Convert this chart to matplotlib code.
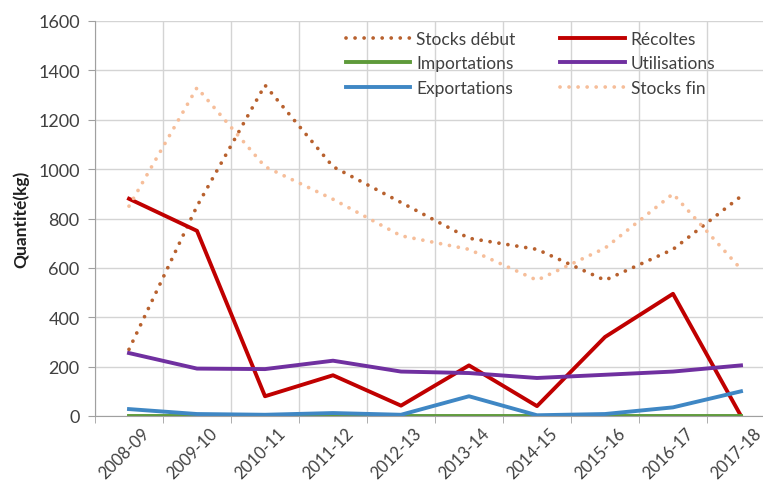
import numpy as np
import matplotlib.pyplot as plt
from matplotlib.transforms import ScaledTranslation

plt.rcParams['font.family'] = ['Lato', 'DejaVu Sans']

# campaigns and quantities (kg)
campagnes = ['2008-09', '2009-10', '2010-11', '2011-12', '2012-13',
             '2013-14', '2014-15', '2015-16', '2016-17', '2017-18']
stocks_debut = [270, 850, 1340, 1010, 865, 720, 675, 550, 675, 890]
recoltes = [880, 750, 80, 165, 42, 205, 40, 320, 495, 0]
importations = [0, 0, 0, 0, 0, 0, 0, 0, 0, 0]
utilisations = [255, 192, 190, 224, 180, 174, 154, 167, 180, 205]
exportations = [28, 8, 5, 12, 5, 80, 3, 8, 35, 100]
stocks_fin = [850, 1330, 1010, 878, 730, 675, 550, 680, 900, 595]

x = np.arange(len(campagnes))

fig = plt.figure(figsize=(7.63, 4.81), dpi=100)
ax = fig.add_axes([95/763, 64/481, 680/763, 395/481])

dot = (0, (0.01, 2.4))
h1, = ax.plot(x, stocks_debut, color='#B8612E', lw=2.7, ls=dot, dash_capstyle='round', label='Stocks début')
h2, = ax.plot(x, recoltes, color='#C00000', lw=2.8, label='Récoltes')
h3, = ax.plot(x, importations, color='#5E9A3A', lw=2.8, label='Importations')
h4, = ax.plot(x, utilisations, color='#7030A0', lw=2.8, label='Utilisations')
h5, = ax.plot(x, exportations, color='#3F87C4', lw=2.8, label='Exportations')
h6, = ax.plot(x, stocks_fin, color='#F6BE9A', lw=2.7, ls=dot, dash_capstyle='round', label='Stocks fin')

ax.set_xlim(-0.5, 9.5)
ax.set_ylim(0, 1600)
ax.set_yticks(range(0, 1601, 200))
ax.set_xticks(x)
ax.set_xticklabels(campagnes, rotation=45, ha='right', rotation_mode='anchor')
ax.set_xticks(np.arange(-0.5, 10, 1), minor=True)
ax.tick_params(axis='x', which='major', length=0, pad=6, labelsize=12)
ax.tick_params(axis='x', which='minor', length=5, color='#A0A0A0')
ax.tick_params(axis='y', length=5, color='#A0A0A0', pad=6, labelsize=13)
ax.tick_params(labelcolor='#404040')
shift = ScaledTranslation(12/100, 0, fig.dpi_scale_trans)
for lab in ax.get_xticklabels():
    lab.set_transform(lab.get_transform() + shift)

ax.grid(axis='y', color='#D4D4D4', lw=1)
ax.grid(axis='x', which='minor', color='#D4D4D4', lw=1)
ax.set_axisbelow(True)
for s in ['top', 'right']:
    ax.spines[s].set_visible(False)
ax.spines['left'].set_color('#A0A0A0')
ax.spines['bottom'].set_color('#A0A0A0')

ax.set_ylabel('Quantité(kg)', fontsize=12.5, fontweight='bold', color='#202020', labelpad=6)

fig.legend(handles=[h1, h3, h5, h2, h4, h6], ncol=2, frameon=False,
           loc='upper left', bbox_to_anchor=(330/763, 1 - 16/481),
           fontsize=12.5, handlelength=3.7, columnspacing=2.6, labelspacing=0.5,
           handletextpad=0.35, labelcolor='#404040')

fig.savefig('out.png', dpi=100)
